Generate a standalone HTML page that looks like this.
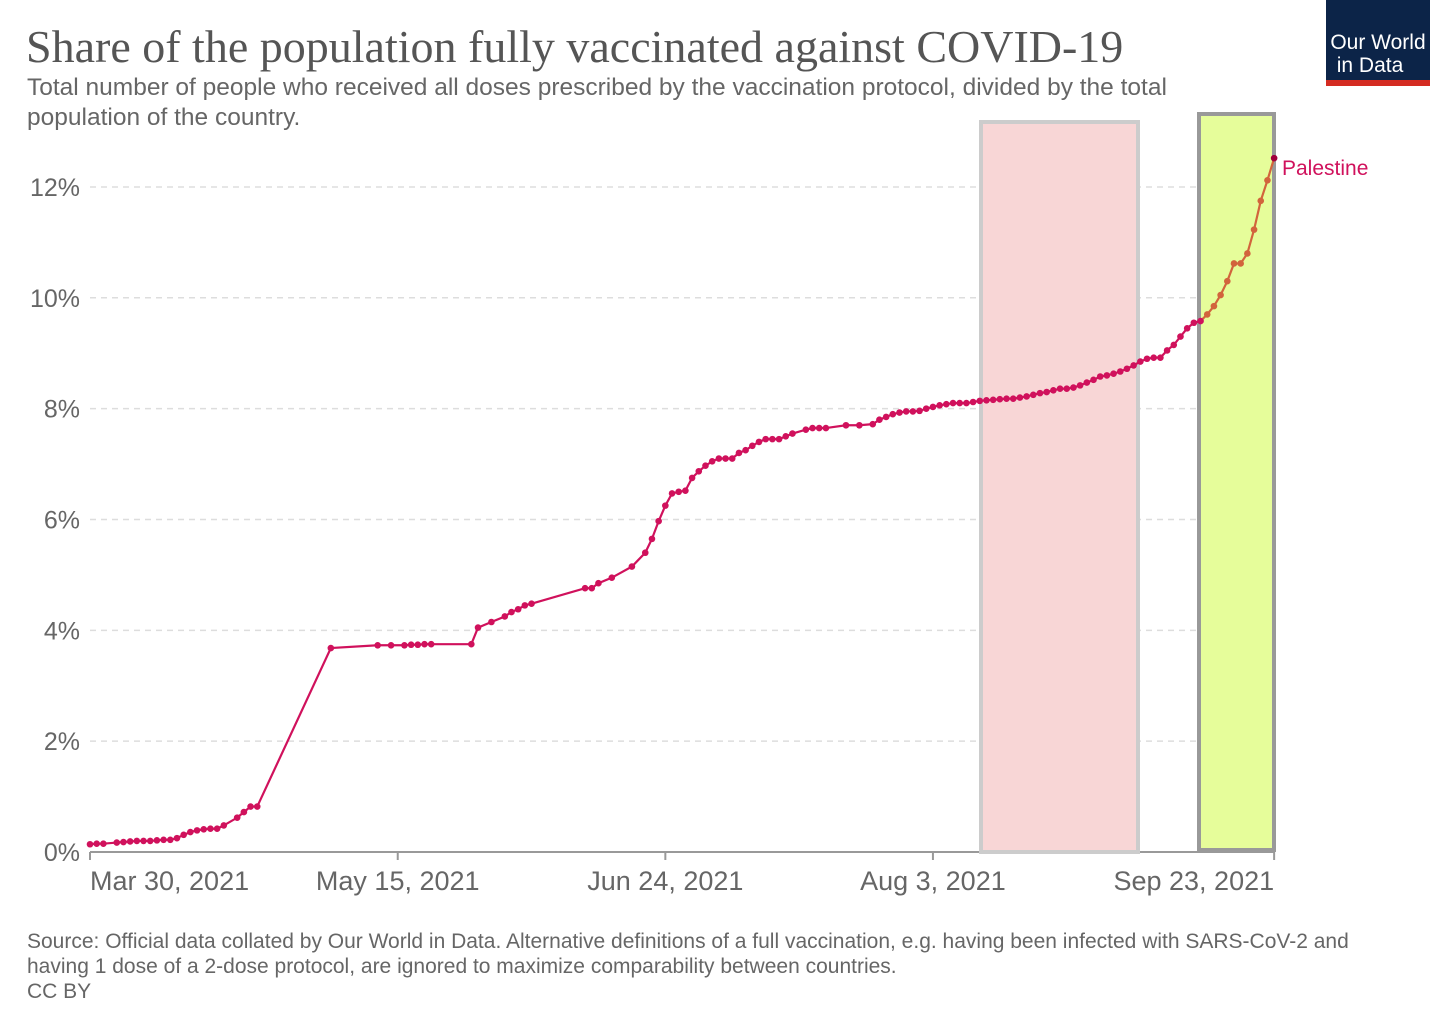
<!DOCTYPE html>
<html><head><meta charset="utf-8"><style>
body{margin:0;background:#fff;width:1456px;height:1028px;overflow:hidden;font-family:"Liberation Sans",sans-serif}
</style></head><body>
<svg width="1456" height="1028">
<text x="26" y="62" font-family="Liberation Serif,serif" font-size="46" fill="#555">Share of the population fully vaccinated against COVID-19</text>
<text x="27" y="95" font-size="24.5" fill="#666">Total number of people who received all doses prescribed by the vaccination protocol, divided by the total</text>
<text x="27" y="125" font-size="24.5" fill="#666">population of the country.</text>
<g>
<rect x="1326" y="0" width="104" height="80" fill="#0c2448"/>
<rect x="1326" y="80" width="104" height="6" fill="#d42b21"/>
<text x="1378" y="49" font-size="21" fill="#fff" text-anchor="middle">Our World</text>
<text x="1370" y="72" font-size="21" fill="#fff" text-anchor="middle">in Data</text>
</g>
<g id="grid"></g>
<rect x="981" y="122" width="157" height="730" fill="#f8d6d6" stroke="#ccc" stroke-width="4"/>
<rect x="1199" y="114" width="75" height="736" fill="#e6fd9a" stroke="#999" stroke-width="4"/>
<g id="series"></g>
<text x="1282" y="175" font-size="21" fill="#d0115c">Palestine</text>
<text x="27" y="948" font-size="21" fill="#666">Source: Official data collated by Our World in Data. Alternative definitions of a full vaccination, e.g. having been infected with SARS-CoV-2 and</text>
<text x="27" y="973" font-size="21" fill="#666">having 1 dose of a 2-dose protocol, are ignored to maximize comparability between countries.</text>
<text x="27" y="998" font-size="21" fill="#666">CC BY</text>
</svg>
<script>
const yTicks=[0,2,4,6,8,10,12];
const xTickDays=[0,46,86,126,177];
const xTickLabels=["Mar 30, 2021","May 15, 2021","Jun 24, 2021","Aug 3, 2021","Sep 23, 2021"];
const days=[0,1,2,4,5,6,7,8,9,10,11,12,13,14,15,16,17,18,19,20,22,23,24,25,36,43,45,47,48,49,50,51,57,58,60,62,63,64,65,66,74,75,76,78,81,83,84,85,86,87,88,89,90,91,92,93,94,95,96,97,98,99,100,101,102,103,104,105,107,108,109,110,113,115,117,118,119,120,121,122,123,124,125];
const values=[0.14,0.15,0.15,0.17,0.18,0.19,0.2,0.2,0.2,0.21,0.22,0.22,0.25,0.31,0.36,0.39,0.41,0.42,0.42,0.48,0.62,0.72,0.82,0.82,3.68,3.73,3.73,3.73,3.74,3.74,3.75,3.75,3.75,4.05,4.15,4.25,4.33,4.38,4.45,4.48,4.76,4.76,4.85,4.95,5.15,5.4,5.65,5.97,6.25,6.47,6.5,6.52,6.75,6.87,6.97,7.05,7.1,7.1,7.1,7.2,7.25,7.33,7.4,7.45,7.45,7.45,7.5,7.55,7.62,7.65,7.65,7.65,7.7,7.7,7.72,7.8,7.85,7.9,7.93,7.95,7.95,7.96,8.0];
const lateStart=126;
const lateValues=[8.03,8.06,8.08,8.1,8.1,8.1,8.12,8.14,8.15,8.16,8.17,8.18,8.18,8.2,8.22,8.25,8.28,8.3,8.33,8.36,8.36,8.38,8.42,8.47,8.52,8.58,8.6,8.63,8.67,8.72,8.78,8.85,8.9,8.92,8.92,9.05,9.15,9.3,9.45,9.55,9.58,9.7,9.85,10.05,10.3,10.62,10.62,10.8,11.23,11.75,12.12,12.52];
const ns="http://www.w3.org/2000/svg";
const X=d=>90+d*6.69, Y=v=>852-v*55.42;
function mk(t,a,p){const e=document.createElementNS(ns,t);for(const k in a)e.setAttribute(k,a[k]);p.appendChild(e);return e;}
const g=document.getElementById('grid'), s=document.getElementById('series');
yTicks.forEach(v=>{
 if(v>0){const l=mk('line',{x1:90,x2:1274,y1:Y(v),y2:Y(v),stroke:'#ddd','stroke-dasharray':'6,5','stroke-width':1.5},g);
 
 }
 const t=mk('text',{x:80,y:Y(v)+9,'text-anchor':'end','font-size':25,fill:'#666'},g);t.textContent=v+'%';
 
 
});
const ax=mk('line',{x1:90,x2:1274,y1:852,y2:852,stroke:'#999','stroke-width':2},g);


xTickDays.forEach((d,i)=>{
 mk('line',{x1:X(d),x2:X(d),y1:852,y2:860,stroke:'#999','stroke-width':2},g);
 const anchor=i==0?'start':(i==xTickDays.length-1?'end':'middle');
 const t=mk('text',{x:X(d),y:890,'text-anchor':anchor,'font-size':27,fill:'#666'},g);t.textContent=xTickLabels[i];
 
 
});
const allD=days.slice(), allV=values.slice();
lateValues.forEach((v,i)=>{allD.push(lateStart+i);allV.push(v);});
const split=allD.indexOf(166);
const pts=allD.map((d,i)=>X(d)+','+Y(allV[i]));
const p1=mk('polyline',{points:pts.slice(0,split+1).join(' '),fill:'none',stroke:'#d0115c','stroke-width':2.2},s);


const p2=mk('polyline',{points:pts.slice(split).join(' '),fill:'none',stroke:'#d2643c','stroke-width':2.2},s);


allD.forEach((d,i)=>{
 const last=i==allD.length-1;
 const c=mk('circle',{cx:X(d),cy:Y(allV[i]),r:3.3,fill:last?'#a0003c':(i>split?'#d2643c':'#d0115c')},s);
 
 
});
</script>
</body></html>
